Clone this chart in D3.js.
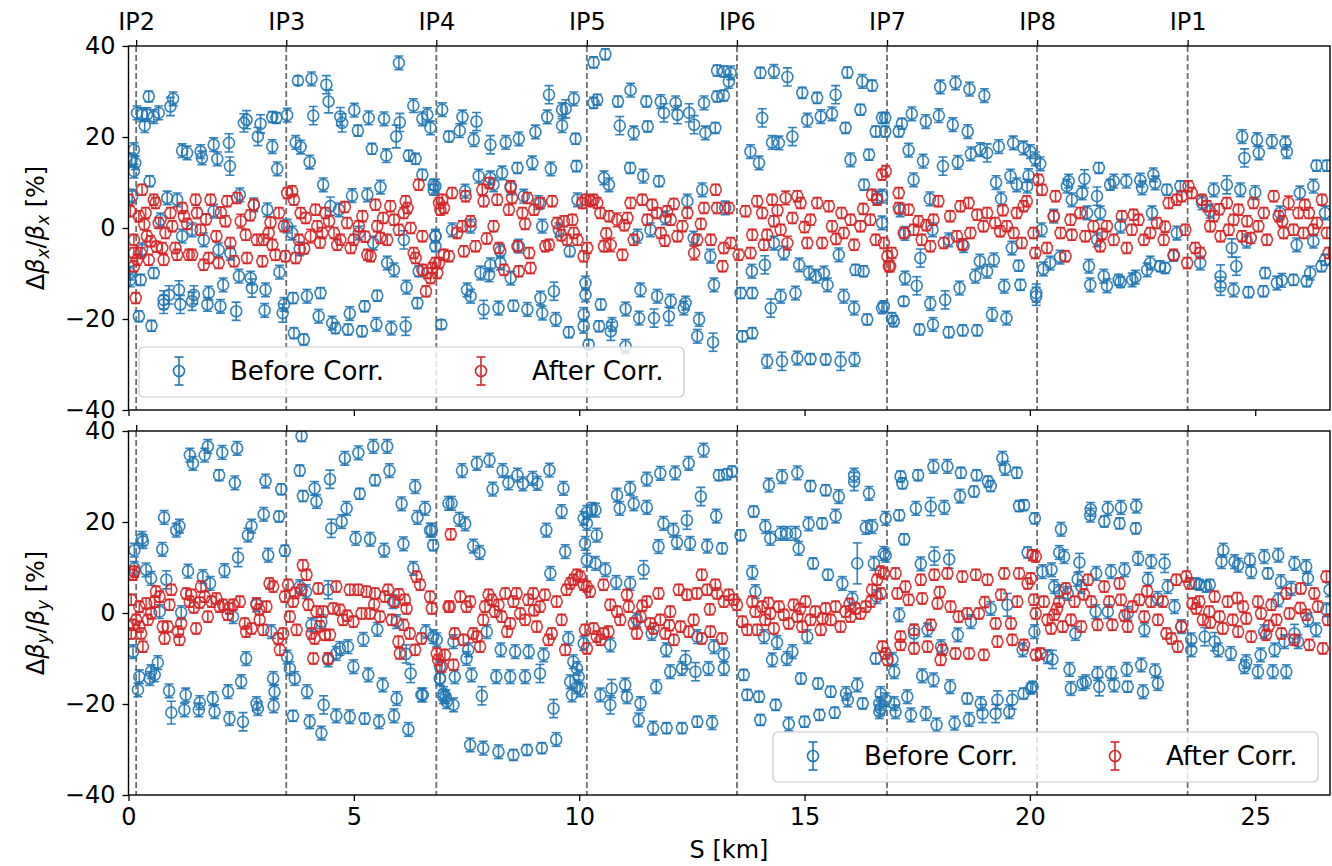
<!DOCTYPE html>
<html>
<head>
<meta charset="utf-8">
<script src="https://cdn.jsdelivr.net/npm/d3@7"></script>
<style>
  body { margin: 0; background: #fff; }
  svg { font-family: "DejaVu Sans", sans-serif; }
</style>
</head>
<body>
<svg id="chart" width="1332" height="866"></svg>
<script>
// ring layout
const circumference = 26.659;
const ipNames = ["IP2", "IP3", "IP4", "IP5", "IP6", "IP7", "IP8", "IP1"];
const ipPos = [0.17, 3.50, 6.83, 10.17, 13.50, 16.83, 20.16, 23.50];
const sTicks = [0, 5, 10, 15, 20, 25];
const yTicks = [-40, -20, 0, 20, 40];
const seriesNames = ["Before Corr.", "After Corr."];

// [S km, beta-beat %, error %]
const betxBefore = [
[0.04,-11.4,1.5],[0.03,-9.9,1.5],[0.07,15,1.5],[0.12,17.2,1.5],[0.12,12.5,1.5],[0.15,14.3,1.5],[0.19,25.3,1.5],[0.3,24.9,1.5],[0.41,24.9,1.5],[0.36,22.5,1.5],[0.45,28.9,1.2],[0.56,24.5,1.5],[0.67,25.3,1.5],[0.93,26.7,2],[0.99,28.4,1.5],[0.08,7,1.5],[0.47,10.3,1.2],[0.3,-4.8,1.5],[0.23,-19.4,1.2],[0.51,-21.5,1.2],[0.27,-11.4,1.2],[0.56,-9.9,1.2],
[0.78,-15.8,2],[0.78,-16.8,2],[0.9,-14.7,2],[1.12,-13.6,2],[1.15,-16.8,2],[1.41,-16.1,2],[1.45,-14.7,2],[1.78,-14.3,1.5],[1.75,-16.8,1.5],[2.04,-17.2,1.5],[2.1,-12.5,1.5],[2.39,-18.3,2],[2.45,-10.6,1.5],[2.71,-11,1.5],[2.74,-13.2,2],[3.04,-13.6,1.5],[3.02,-18.1,1.5],[3.35,-9.7,1.5],[3.42,-18.7,2],[3.45,-16.8,1.5],
[1.19,17,1.5],[1.3,16.5,1.5],[1.6,16.8,1.5],[1.63,15.4,1.5],[1.89,18.3,1.5],[1.97,15.2,1.5],[2.25,13.6,2],[2.23,18.7,2],[2.56,23.1,2],[2.62,23.8,2],[2.87,20.1,2],[2.93,22.9,2],[3.19,17.9,1.5],[3.19,24.4,1.2],[3.28,24.2,1.2],[3.3,13,1.5],[3.52,24.8,1.5],
[0.71,1.8,1.5],[0.86,6.6,1.5],[1.08,6.2,1.5],[1.19,-1.8,1.5],[1.41,-0.4,1.5],[1.67,-2.6,1.5],[1.89,3.7,1.5],[2,-4.8,1.5],[2.26,-5.5,1.5],[2.47,7.3,1.5],[2.78,5.1,1.5],[3.08,4,1.5],[3.52,0.4,1.5],[3.63,-1.1,1.5],[3.8,-4.6,1.5],
[3.76,32.4,1],[4.06,32.8,1.5],[4.39,31.5,2],[4.44,27.8,2.5],[4.1,24.7,2],[4.7,24.5,2],[4.74,23.1,2],[5.01,25.9,1.5],[5.09,21.4,1.2],[5.33,24.2,1.5],[5.67,24,1.5],[6.02,23.2,2],[5.94,20.1,2.5],[6,36.3,1.5],[6.32,26.9,1.5],[6.52,24,1.5],[6.63,24.9,1.5],[6.7,22,1.5],
[3.71,18.8,1.5],[3.82,17.8,1.5],[4.02,14.5,1.5],[5.4,17.4,1.2],[5.72,15.9,1.5],[6.22,15.9,1.2],[6.37,15.2,1.2],[6.52,11.7,1.2],[6.77,9.5,1.2],[6.77,8.4,1.2],
[4.32,9.5,1.5],[4.96,7.1,1.5],[5.3,7.3,1.5],[5.59,9,1.5],
[4.48,4.8,2],[4.67,4,1.5],[5.11,-1.1,1.5],[5.43,-3.3,1.5],[5.74,-7.7,1.5],[5.89,-9.2,1.5],[6.11,-2.6,2],[6.44,-9.5,1.2],[6.81,-1.8,1.2],[6.81,-4,1.2],
[3.65,-15.4,1.2],[3.96,-15,1.5],[4.26,-14.3,1.2],[5.52,-14.9,1.2],[5.24,-17.2,1.2],[4.91,-18.8,1.5],[6.17,-13,1.5],[6.41,-16.5,1.2],[3.67,-23.1,1.2],[3.89,-24.5,1.2],[4.22,-19.4,1.5],[4.52,-20.9,1.5],[4.59,-22,1.2],[4.87,-22.3,1.2],[5.18,-22.7,1.2],[5.5,-21.2,1.5],[5.83,-22,1.5],[6.15,-21.6,2],[6.94,-21.2,1],
[6.96,26,1.5],[7.41,24.4,1.5],[7.72,23.4,2],[7.35,21.4,1.5],[7.11,20.1,1.2],[7.66,19.4,1.5],[8.03,18.3,2],[8.37,18.8,1.5],[8.66,19.6,1.5],[9.03,21.1,1.5],[9.33,29.3,2],[9.29,24.4,1.5],[9.62,26,1.5],[9.7,26.2,2],[9.88,28.4,1.5],[9.62,22.5,1.5],[9.92,19.6,1.2],[10.32,36.4,1.2],[10.58,38.2,1.2],[10.32,27.5,1.2],[10.4,28.2,1.2],[10.86,27.8,1.2],[11.14,30.3,1.5],[10.9,22.5,2],[11.21,20.9,1.5],[11.52,22.3,1.2],[11.49,27.8,1.2],[11.81,27.8,1.5],[11.88,25.3,2],[12.14,27.5,1.5],[12.18,24.9,2],[12.44,25.3,2],[12.55,22.7,2],[12.77,27.5,1.5],[12.8,20.9,1.5],[13.02,22,1.2],[13.06,28.9,1.2],[13.21,29.1,1.2],[13.06,34.6,1.2],[13.21,34.4,1.2],[13.36,34.1,1.5],[13.32,32.2,1.5],
[14.02,34.1,1.2],[14.32,34.4,1.5],[14.62,33.2,2],[14.06,24.2,2],[13.8,16.8,1.5],[13.99,14.3,1.5],[14.28,18.8,1.5],[14.43,18.7,1.5],[14.73,20.1,2],[14.95,29.7,1.2],[15.28,28.6,1.2],[15.69,29.3,2],[15.06,23.7,1.5],[15.36,24.5,1.5],[15.61,25.1,1.5],[15.91,22,1.2],[15.95,34.2,1.2],[16.28,32.2,1.5],[16.5,31.3,1.2],[16.24,26,1.2],[16.02,15,1.5],[16.43,16.1,1.2],[16.58,21.2,1.2],[16.72,24.2,1.2],
[7.77,11.4,1.5],[8.03,11,1.5],[8.29,12.1,1.5],[8.63,13.2,1.2],[8.96,14.3,1.5],[9.37,13,1.5],[9.94,13.6,1.2],[10.55,11,1.5],[10.66,9.5,1.5],[11.13,13.2,1.2],[11.42,11.4,1.5],[11.77,10.3,1.2],[12.73,8.4,1.5],[16.32,9.5,1.2],[16.61,6.6,1.5],
[6.81,9.2,1.5],[7.47,8.1,1.5],[8.1,9.5,1.5],[8.48,8.8,1.5],[8.77,7,1.5],[9.1,5.6,1.5],[9.96,6.2,1.5],[12.4,5.9,1.5],[13.24,4.4,1.5],[7.18,-0.4,1.5],[6.81,-1.8,1.5],[7.59,0.4,1.5],[8.25,-5.1,1.5],[8.66,-4,1.5],[9.18,0.4,1.5],[9.55,-0.4,1.5],[9.79,-5.1,1.2],[11.29,-1.8,1.5],[11.58,-0.4,1.5],[11.91,2.2,1.5],[12.54,-2.2,1.5],[12.91,-6.2,1.5],[14.32,-3.3,1.5],[14.54,-5.5,1.5],[15.76,-5.9,1.5],
[7.81,-9.9,1.5],[8.03,-8.1,1.5],[8,-10.3,1.5],[8.25,-7.7,1.5],[8.48,-11,1.5],[13.83,-9.5,1.5],[14.12,-8.1,2],[14.88,-8.1,1.5],[15.1,-9.9,1.5],[15.25,-10.6,1.5],[15.43,-9.9,1.5],[15.51,-12.5,1.5],[16.13,-9.2,1.2],[16.31,-9.5,1.2],[12.99,-12.5,1.5],
[7.51,-13.6,1.5],[7.59,-15,1.5],[7.88,-17.9,2],[8.21,-17.6,1.5],[8.54,-17.1,1.2],[8.85,-17.9,1.5],[9.14,-15.4,1.5],[9.18,-18.7,1.5],[9.44,-13.9,2],[9.48,-20.1,1.5],[9.77,-22.9,1.2],[10.1,-21.6,1.5],[10.14,-14.7,1.5],[10.1,-19,1.5],[10.14,-12.1,1.5],[10.44,-21.6,1.2],[10.7,-22.7,2],[10.73,-21.2,1.5],[10.48,-16.8,1.2],[10.21,-25.6,1],[11.03,-26,1.5],[11.03,-17.8,1.5],[11.33,-19.8,1.5],[11.36,-13.6,1.5],[11.66,-19.8,2],[11.73,-15,1.5],[11.99,-19.4,2],[12.03,-16.1,1.5],[12.32,-17.6,1.5],[12.36,-16.5,1.5],[12.66,-20.1,1.5],[12.62,-23.8,1.5],[12.97,-25.1,2],[13.58,-14.3,1.2],[13.84,-14.3,1.2],[14.25,-17.6,2],[14.47,-15,1.5],[14.8,-14.3,1.5],[15.87,-15,1.5],[16.1,-17.6,1.5],[16.39,-20.1,1.2],[16.72,-17.6,1.2],[13.62,-23.8,1.2],[13.84,-23.1,1.2],[14.17,-29.3,1.5],[14.5,-29.3,2],[14.84,-28.6,1.5],[15.13,-28.8,1.2],[15.47,-28.9,1.2],[15.8,-29.3,2],[16.11,-28.9,1.5],
[18.01,31,1.5],[18.35,31.9,1.5],[18.66,30.5,1.5],[18.99,29.1,1.5],[16.79,24.2,1.2],[16.79,21.2,1.2],[17.09,21.2,1.2],[17.16,22.9,1.2],[17.38,25.1,1.5],[17.69,23.4,1.5],[17.98,24.7,1.5],[18.29,22.7,1.5],[18.62,21.2,1.5],[17.31,17.1,1.5],[17.63,14.7,1.5],[18.07,13.6,2],[18.4,14.4,1.5],[18.69,16.3,1.5],[18.9,17.2,1.5],[19.05,16.5,2],[19.31,17.9,1.5],[19.63,18.7,1.5],[19.86,17.6,1.5],[20.01,16.8,1.5],[20.12,15.2,1.5],[20.23,14.1,1.5],
[17.42,10.6,1.5],[17.78,6.4,1.5],[19.25,10,1.5],[19.36,6.4,1.5],[19.57,11.4,1.5],[19.71,9.5,1.5],[19.94,9.2,1.5],[19.97,11.5,1.5],
[16.72,7,1.5],[16.72,1.1,1.5],[17.12,4,1.5],[17.23,-1.2,1.5],[17.84,-0.4,1.5],[18.2,-2.6,1.5],[18.53,-3.9,1.5],[17.57,-6.6,2],[17.23,-11,1.5],[17.49,-12.7,2],[17.2,-16.1,1],[17.79,-16.6,1.5],[18.12,-15.8,2],[18.44,-13.2,1.5],[18.79,-10.6,1.5],[19.05,-9.5,1.5],[18.89,-7.3,1.5],[19.2,-7,1.5],[19.43,-12.8,1.5],[19.79,-12.5,1.2],[19.75,-8.3,1.2],[19.6,-4.4,1.5],[16.76,-17.2,1.2],[16.94,-19.8,1.2],[16.98,-20.5,1.2],[17.55,-22.3,1.2],[17.85,-21.2,1.5],[18.2,-22.9,1.2],[18.51,-22.5,1.2],[18.83,-22.5,1.2],[19.16,-19,1.5],[19.48,-19.8,1.5],[20.14,-14.3,2],[20.14,-15,2],
[20.3,-9,1.5],[20.45,-7.7,1.5],[20.67,-6.4,1.5],[20.26,-0.4,1.5],[20.53,2.6,1.5],[20.82,9.2,1.5],[20.93,6.2,1.5],[20.86,10.3,1.5],[21.16,7.7,1.5],[21.21,10.8,2],[21.53,13.2,1.2],[21.49,7,2],[21.27,3.3,1.5],[21.56,3.3,1.5],[21.78,9.5,1.2],[21.86,10.3,1.5],[22.14,10.3,1.5],[22.45,10.5,1.5],[22.49,8.8,1.5],[22.74,11.7,1.5],[22.78,9.9,1.5],[23.04,8.4,1.2],[23.34,9.2,1.2],[21.31,-8.4,1.5],[21.34,-12.5,1.5],[21.64,-10.6,1.5],[21.71,-12.7,1.5],[21.97,-11.4,1.2],[22.01,-11.9,1.2],[22.27,-11.4,1.5],[22.34,-10.8,1.5],[22.6,-9.2,1.5],[22.67,-7.7,1.5],[22.89,-8.4,1.2],[23,-8.8,1.2],[23.19,-6.1,1.2],[22.71,3.3,1.5],[22.01,0.4,1.5],[21.49,-2.6,1.5],[23.26,-1.1,1.5],
[23.78,-7.7,1.5],[23.82,5.5,1.5],[24.08,8.4,1.5],[24.37,9.5,2],[24.67,8.4,1.5],[25,7.8,1.5],[24.71,20.1,1.5],[25.04,19.4,1.5],[25.37,19,1.5],[25.67,18.7,1.5],[24.76,15.4,2],[25.08,16.5,1.5],[25.7,16.8,1.5],[25.99,7.7,1.5],[26.29,9.2,1.5],[26.36,13.7,1.2],[26.59,13.7,1.2],[24.23,-10.6,2.5],[24.23,-12.8,2],[24.58,-8.4,2],[24.52,-13.6,1.5],[24.85,-14.1,1.2],[25.18,-13.9,1.2],[25.22,-9.9,1.2],[25.48,-12.1,1.5],[25.59,-11.5,1.5],[25.85,-11.4,1.2],[26.14,-11.7,1.2],[26.22,-9.9,1.5],[26.47,-8.4,1.2],[26.55,-7,1.2],[24.81,-2.9,1.5],[24.48,-4.4,2],[25.92,-3.7,1.5],[26.29,-2.9,1.5],[24,3.7,1.5],[25.55,3.3,1.5],[26.55,3.3,1.5]
];

const betxAfter = [
[0.01,6.2,1.2],[0.04,3.7,1.2],[0.12,-2.6,1.2],[0.12,-5.5,1.2],[0.12,-8.4,1.2],[0.16,-15.4,1.2],[0.19,-7,1.2],[0.27,-5.5,1.2],[0.3,8.4,1.2],[0.23,2.6,1.2],[0.38,3.3,1.2],[0.41,-1.8,1.2],[0.49,-2.9,1.2],[0.45,-7,1.2],[0.56,6.2,1.2],[0.6,5.5,1.2],[0.67,1.1,1.2],[0.75,-4.4,1.2],[0.78,-7,1.2],[0.82,-1.1,1.2],[0.93,3.3,1.2],[0.97,0.4,1.2],[1.04,-4.4,1.2],[1.08,-5.9,1.2],[1.19,4.4,1.2],[1.23,2.6,1.2],[1.34,-5.9,1.2],[1.41,-5.9,1.2],[1.49,6.2,1.2],[1.52,3.3,1.2],[1.6,-0.4,1.2],[1.67,-8.1,1.2],[1.78,-6.6,1.2],[1.82,6.2,1.2],[1.95,-1.8,1.2],[2,-7.7,1.2],[2.15,1.5,1.2],[2.19,5.9,1.2],[2.26,-3.3,1.2],[2.34,-7.3,1.2],[2.41,6.6,1.2],[2.49,1.5,1.5],[2.6,-1.5,1.2],[2.63,-6.6,1.2],[2.78,5.1,1.2],[2.85,-2.6,1.2],[2.97,-7.3,1.2],[3,-2.6,1.2],[3.11,-1.1,1.2],[3.19,-3.7,1.2],[3.26,-5.9,1.2],[3.34,3.3,1.2],[3.45,0.4,1.2],[3.48,-6.2,1.2],[3.52,7.7,1.2],[3.63,8.1,1.2],[3.71,-6.6,1.2],[3.67,6.2,1.2],[3.78,-2.6,1.2],[3.82,3.3,1.2],[3.93,2.2,1.2],[4.04,-1.8,1.5],[4.15,4,1.2],[4.19,0.4,1.2],[4.3,-1.1,1.2],[4.37,3.3,1.2],[4.45,1.5,1.2],[4.56,-1.1,1.2],[4.63,-3.7,1.2],[4.7,-2.6,1.2],[4.85,1.1,1.2],[4.93,-4.4,1.2],[5,-2.6,1.2],[5.11,0.4,1.2],[5.19,2.6,1.2],[5.3,-5.9,1.2],[5.37,-6.2,1.2],[5.48,5.1,1.2],[5.52,0.4,1.2],[5.59,-2.2,1.2],[5.74,-2.6,1.2],[5.81,4.8,1.2],[5.89,1.8,1.2],[6,-0.4,1.2],[6.11,3.3,1.2],[6.15,5.9,1.2],[6.19,4.4,1.2],[6.26,0,1.2],[6.33,-5.5,1.2],[6.37,-6.6,1.2],[6.44,9.5,1.2],[6.52,-1.8,1.2],[6.52,-9.2,1.2],[6.63,-9.9,1.2],[6.7,-11,1.2],[6.74,-8.8,1.2],[6.6,-13.9,1.2],[6.81,-7.7,1.2],[6.89,5.5,1.2],[6.92,4,1.2],[7,-5.9,1.2],
[0.35,0.8,1.2],[0.62,-4.1,1.2],[1.3,0.9,1.2],[1.72,1.9,1.2],[2.05,3.4,1.2],[2.7,2.8,1.2],[3.15,1.2,1.2],[3.9,-4.5,1.2],[4.25,-3.2,1.2],[4.8,4.6,1.2],[5.25,-1.9,1.2],[5.65,2.2,1.2],
[6.85,-9.9,1.2],[6.89,-7.7,1.2],[6.96,6.2,1.2],[7,4.4,1.2],[7.11,-6.2,1.2],[7.18,7.7,1.2],[7.29,-1.1,1.2],[7.41,0.4,1.2],[7.44,-5.1,1.2],[7.48,7,1.2],[7.59,1.5,1.2],[7.7,-4,1.2],[7.85,8.4,1.2],[7.88,5.9,1.2],[8,9.9,1.2],[8.1,0.4,1.2],[8.18,6.2,1.2],[8.22,-4.4,1.2],[8.33,-9.2,1.2],[8.44,4,1.2],[8.48,9.2,1.2],[8.51,6.6,1.2],[8.63,-4,1.2],[8.66,-9.5,1.2],[8.74,3.3,1.2],[8.85,6.6,1.2],[8.89,-5.5,1.2],[8.92,-8.8,1.2],[9,4,1.2],[9.14,5.5,1.2],[9.25,-4,1.2],[9.33,-3.7,1.2],[9.4,5.9,1.2],[9.51,1.1,1.2],[9.66,1.5,1.2],[9.73,-2.6,1.2],[9.85,1.8,1.2],[9.88,-1.1,1.2],[9.96,-2.6,1.2],[10.07,5.5,1.2],[10.1,-6.2,1.2],[10.14,6.2,1.2],[10.18,-4.4,1.2],[10.25,5.9,1.2],[10.32,6.2,1.2],[10.4,5.5,1.2],[10.47,3.3,1.2],[10.55,-4,1.2],[10.66,2.6,1.2],[10.7,-3.7,1.5],[10.84,1.8,1.5],[10.96,-5.9,1.2],[11.07,2.2,1.2],[11.14,5.5,1.2],[11.21,-2.6,1.2],[11.4,6.2,1.2],[11.51,1.8,1.2],[11.62,5.1,1.2],[11.73,3.3,1.2],[11.81,-1.1,1.2],[11.95,3.7,1.2],[12.03,1.8,1.2],[12.18,-1.8,1.2],[12.29,0.4,1.2],[12.4,3.3,1.2],[12.55,-5.5,1.5],[12.62,-2.6,1.2],[12.77,4.4,1.2],[12.92,-2.6,1.2],[13.03,8.4,1.2],[13.06,4.4,1.2],[13.18,-8.4,1.2],[13.21,-4.4,1.2],[13.32,4.4,1.2],[13.36,-3.3,1.2],[13.54,-5.9,1.2],[13.69,3.7,1.2],[13.8,-5.5,1.2],[13.84,-1.5,1.2],[13.95,5.9,1.2],[14.06,3.3,1.2],[14.17,-1.5,1.2],[14.28,6.2,1.2],[14.32,1.5,1.2],[14.47,-0.4,1.2],[14.58,6.6,1.5],[14.62,-3.3,1.5],[14.73,2.2,1.2],[14.84,7,1.2],[14.91,5.5,1.2],[15.06,-3.3,1.2],[15.13,1.8,1.2],[15.28,5.5,1.2],[15.39,-3.3,1.2],[15.54,4.8,1.2],[15.61,0.4,1.2],[15.82,3.3,1.2],[15.87,-1.1,1.2],[16.02,1.8,1.2],[16.1,-3.7,1.2],[16.24,0.4,1.2],[16.46,1.8,1.2],[16.58,-2.6,1.2],[16.5,7.3,1.2],[16.61,6.2,1.2],[16.72,11.7,1.2],[16.8,12.5,1.2],[16.84,-6.2,1.2],[16.87,-8.4,1.2],
[7.95,-2.3,1.2],[8.8,0.9,1.2],[9.6,-1.6,1.2],[10.6,-1.2,1.2],[11.0,0.6,1.2],[11.9,-2.8,1.2],[12.1,5.3,1.2],[12.7,0.9,1.2],[14.1,-3.7,1.2],[14.4,3.9,1.2],[15.0,0.2,1.2],[15.7,-2.4,1.2],[16.3,4.2,1.2],
[16.76,-3.3,1.2],[16.94,-5.5,1.2],[16.9,-8.4,1.2],[17.09,7.7,1.2],[17.09,4.4,1.2],[17.2,-1.1,1.2],[17.31,4,1.2],[17.42,-0.4,1.2],[17.53,1.5,1.2],[17.6,-2.6,1.2],[17.79,-4,1.2],[17.86,1.8,1.2],[17.97,5.9,1.2],[18.09,-3.3,1.2],[18.23,2.6,1.2],[18.38,-1.8,1.2],[18.46,4.8,1.2],[18.64,5.5,1.2],[18.68,-1.1,1.2],[18.83,2.9,1.2],[18.97,0.4,1.2],[19.05,3.3,1.2],[19.23,1.1,1.2],[19.34,-0.7,1.2],[19.49,0.4,1.2],[19.64,-1.1,1.2],[19.71,3.3,1.2],[19.82,-3.3,1.2],[19.86,4.8,1.2],[19.93,5.9,1.2],[20.08,-1.1,1.2],[20.12,-5.5,1.2],[20.19,10.6,1.2],[20.27,8.4,1.2],[20.38,-4.4,1.2],[20.53,2.6,1.2],[20.57,7,1.2],[20.68,-1.1,1.2],[20.79,-6.2,1.2],[20.93,-1.5,1.2],[21.12,3.3,1.2],[21.23,-1.8,1.2],[21.41,0.4,1.2],[21.56,-4,1.2],[21.71,0.4,1.2],[21.86,-2.6,1.2],[22.04,2.6,1.2],[22.15,-4.4,1.2],[22.26,-0.4,1.2],[22.41,1.8,1.2],[22.53,-2.6,1.2],[22.67,-1.1,1.2],[22.82,1.1,1.2],[22.97,-2.6,1.2],[23.08,5.5,1.2],[23.19,-5.9,1.2],[23.26,6.2,1.2],[23.37,7,1.2],[23.45,-0.4,1.2],[23.49,-7.7,1.2],[23.52,9.2,1.2],[23.59,7.7,1.2],[23.67,-4.4,1.2],[23.78,-5.5,1.2],[23.82,6.2,1.2],[23.93,4.8,1.2],[24,0.4,1.2],[24.08,2.6,1.2],[24.23,-1.8,1.2],[24.37,5.5,1.2],[24.41,-0.4,1.2],[24.52,1.8,1.2],[24.63,4,1.2],[24.71,-1.8,1.2],[24.82,1.5,1.2],[24.96,5.5,1.2],[25.07,0.4,1.2],[25.19,3.3,1.2],[25.26,-2.6,1.2],[25.41,7,1.2],[25.52,2.6,1.2],[25.63,-1.1,1.2],[25.74,5.5,1.5],[25.85,-0.4,1.2],[25.96,3.3,1.2],[26.07,-1.1,1.2],[26.19,3.3,1.2],[26.29,-0.4,1.2],[26.37,1.1,1.2],[26.48,6.2,1.2],[26.59,-1.1,1.2],[26.63,-5.5,1.2],
[17.7,0.6,1.2],[18.5,-3.6,1.2],[19.4,3.9,1.2],[20.9,1.8,1.2],[21.6,-1.3,1.2],[22.3,2.9,1.2],[23.0,0.3,1.2],[24.2,4.1,1.2],[24.9,-2.2,1.2],[25.6,1.5,1.2],[26.1,5.1,1.2]
];

const betyBefore = [
[0.1,-8.5,1.5],[0.13,13.8,1.5],[0.13,9.8,1.5],[0.3,16.4,1.5],[0.32,15.7,1.5],[0.39,9.5,1.5],[0.5,7.6,1.5],[0.75,14,1.5],[0.79,21,1.5],[0.84,7.3,2],[1.06,18.2,1.5],[1.13,19.1,1.5],[1.32,9.2,1.5],[1.36,34.7,1.5],[1.43,32.9,1.5],[1.65,8,1.5],[1.69,34.7,1.5],[1.76,36.6,1.5],[1.81,6.5,1.5],[1.17,0.1,1.5],[0.69,0.3,1.5],
[2.01,30.3,1.2],[2.08,35.3,1.5],[2.36,28.6,1.5],[2.41,36.2,1.5],[2.13,9.3,1.5],[2.43,12.2,2],[2.65,17.1,1.5],[2.73,19.1,1.5],[3,21.7,1.5],[3.04,29,1.5],[3.1,12.7,1.5],[3.34,21.2,1.2],[3.39,27.2,1.2],[3.47,13.7,1.2],[3.84,38.9,1.2],[3.8,31.3,1.2],[3.87,25.7,1.2],[4.13,27.4,1.5],[4.17,24.5,1.5],[4.47,29.4,2],[4.5,18.6,2],[4.73,20.1,1.5],[4.84,23,1.5],[4.8,34,1.5],[5.1,35.2,1.5],[5.13,26.2,1.2],[5.04,16.4,1.5],[5.36,16.2,1.5],[5.43,36.6,1.5],[5.47,29.2,1.2],[5.67,13.8,1.5],[5.74,36.6,1.5],[5.79,31.3,1.5],[6.06,24,1.5],[6.1,15.2,1.5],[6.36,27.8,1.5],[6.41,21,1.5],[6.58,23,1.5],[6.69,18.2,1.5],[6.76,14.9,1.2],[6.32,9.8,1.5],[7.1,24.1,1.5],
[3.8,5.8,1.5],[3.94,4.7,1.5],[4.43,5.1,2],[5.87,2.5,1.5],[5.95,-1.9,1.5],[2.32,-0.8,1.5],[2.84,1.8,1.5],[3.17,-4.1,1.5],[3.52,-9.7,1.5],[3.58,-12.2,1.5],[3.69,-14.4,1.5],[4.06,-2.6,1.5],[4.28,-1.9,1.5],[4.43,-10.3,1.5],[4.61,-8.9,1.5],[4.69,-7.8,1.5],[4.87,-7.4,1.5],[5.21,-5.8,1.5],[5.52,-3.6,1.5],[4.99,-11.8,1.5],[5.32,-13.6,1.5],[5.64,-15.8,1.5],[5.95,-18.8,1.5],[6.16,-9,2],[6.26,-13.3,2],[6.53,-18,1.5],[6.6,-4.1,1.5],[6.84,-5.9,1.5],[6.91,-14.4,1.5],[6.99,-18.4,1.5],[7.06,-19.5,1.5],
[0.21,-16.9,1.5],[0.24,-14,1.5],[0.47,-14.4,1.5],[0.5,-12.9,1.5],[0.58,-13.6,1.5],[0.65,-10.9,1.5],[0.9,-17.1,1.5],[0.95,-21.9,2.5],[1.24,-21.3,1.5],[1.27,-18,1.5],[1.56,-21.3,1.5],[1.58,-19.7,1.5],[1.87,-18.8,1.5],[1.91,-21.7,1.5],[2.21,-17.3,1.5],[2.24,-23.2,1.5],[2.5,-15.1,1.5],[2.54,-23.9,2],[2.61,-10,1.5],[2.84,-19.9,1.5],[2.87,-21,1.5],[3.21,-14.4,1.5],[3.24,-17.3,1.5],[3.22,-20.4,1.5],[3.65,-22.6,1.2],[3.96,-17.3,1.5],[4.02,-23.9,1.5],[4.28,-26.4,1.5],[4.33,-20.2,2],[4.61,-22.6,1.5],[4.91,-22.8,1.5],[5.24,-23.2,1.2],[5.56,-23.9,1.5],[5.89,-22.6,1.5],[6.21,-25.6,1.5],[6.5,-18,1.5],
[6.73,18.2,1.5],[7.17,24.1,1.5],[7.4,31.3,1.5],[7.73,32.9,1.5],[8.01,33.6,1.5],[8.08,27.2,1.5],[8.3,31.3,1.5],[8.43,28.6,1.5],[8.63,30.3,1.5],[8.75,28.4,1.5],[8.97,29.6,1.5],[9.07,28.5,1.5],[9.34,31.4,1.5],[9.65,27.4,1.5],[9.61,22.3,1.5],[9.27,18.2,1.5],[9.69,13.5,1.5],[9.36,8.7,1.5],[7.34,20.6,1.5],[7.47,19.6,1.5],[7.65,14.7,1.5],[7.79,13.3,1.5],[10.1,20.8,1.5],[10.17,19.7,1.5],[10.17,22.1,1.5],[10.28,22.8,1.5],[10.36,22.6,1.5],[10.39,17.1,1.5],[10.13,15.3,1.5],[10.17,11.6,1.5],[10.36,10.9,1.5],[10.58,9.5,1.5],[10.84,25.9,1.5],[10.9,23,1.5],[11.13,27.4,1.5],[11.21,24,1.5],[11.5,23.2,1.5],[11.5,29.4,1.5],[11.8,30.7,1.5],[12.13,30.8,1.5],[12.43,32.9,1.5],[12.76,35.8,1.5],[12.7,25.6,2],[12.39,20.4,2],[11.87,19.7,1.5],[12.09,18.2,1.5],[12.17,15.5,1.5],[12.46,15.3,1.5],[11.76,14.6,1.5],[12.84,14.7,1.5],[13.17,14.2,1.2],[13.04,21.3,1.5],[13.1,30.3,1.2],[13.28,30.5,1.2],[13.39,31.1,1.2],[11.43,9.5,2],[10.82,6.7,1.5],[11.13,6.5,1.5],[13.58,17.1,1.2],
[13.84,8.9,1.5],[13.91,4.7,1.5],[13.87,22.3,1.2],[14.13,19,1.5],[14.21,28.1,1.5],[14.24,16.4,1.5],[14.47,17.5,1.5],[14.5,30,1.5],[14.61,17.5,1.5],[14.8,17.5,1.5],[14.84,30.8,1.5],[14.87,14.2,1.5],[15.09,19.6,1.5],[15.13,27.9,1.2],[15.19,10.9,1.2],[15.39,19.7,1.2],[15.47,27,1.2],[15.52,8.4,1.2],[15.69,21.3,1.5],[15.76,25.6,1.5],[15.84,6.5,1.5],[16.06,3.2,1.5],[16.1,28.9,2],[16.1,30.3,1.5],[16.17,10.9,4.5],[16.43,26.3,1.5],[16.36,18.8,1.5],[16.5,19,1.5],[16.54,10.9,1.5],[16.76,13.1,1.5],[16.8,20.8,1.5],[16.61,3.6,1.5],
[6.76,-5.2,1.5],[6.91,-11.8,1.5],[6.91,-14.4,1.5],[6.99,-17.7,1.5],[7.04,-18.4,1.5],[7.21,-20.2,1.5],[7.24,-14,1.5],[7.21,-6.3,1.5],[7.5,-10,1.5],[7.54,-8.1,1.5],[7.61,-13.6,1.5],[7.84,-18.2,2],[7.95,-4.1,1.5],[8.26,-8.1,1.5],[8.16,-14,1.5],[8.47,-14,1.5],[8.58,-8.5,1.5],[8.8,-14,1.5],[8.88,-8.5,1.5],[9.13,-13.3,2],[9.21,-9.2,1.5],[9.43,-21,2],[9.76,-5.6,1.5],[9.87,-10.7,1.5],[9.95,-12.2,1.5],[9.99,-14,1.5],[9.8,-15.1,1.5],[9.84,-18,1.5],[9.95,-16.2,1.5],[10.02,-16.9,1.5],[10.1,-6.7,1.5],[10.69,-7,1.5],[10.47,-18,1.5],[10.72,-16.6,2],[10.69,-20.2,2],[11.02,-15.8,1.5],[11.06,-18.4,1.5],[11.36,-19.9,1.5],[11.32,-23.5,1.5],[11.71,-16.2,1.5],[11.64,-25.3,1.5],[11.93,-8.1,1.5],[11.94,-25.3,1.2],[12.02,-12.9,1.5],[12.28,-25.3,1.2],[12.36,-10.3,2],[12.28,-12.2,1.5],[12.58,-12.9,2],[12.62,-23.9,1.2],[12.87,-12.2,1.5],[12.95,-24.1,1.5],[12.99,-7.4,1.5],[13.21,-9.2,1.5],[13.21,-12.2,1.5],[11.61,-4.5,1.5],[12.62,-5.2,1.5],[11.28,-1.5,1.5],
[7.58,-29,1.5],[7.87,-29.7,1.5],[8.21,-30.5,1.5],[8.54,-31.2,1.2],[8.84,-30.1,1.2],[9.17,-29.7,1.2],[9.49,-27.8,1.5],
[13.65,-13.6,1.2],[13.73,-18,1.2],[13.99,-18.4,1.2],[14.02,-23.5,1.2],[14.1,-5.2,1.5],[14.28,-10.3,1.5],[14.39,-6.5,1.5],[14.36,-20.2,1.2],[14.61,-10,1.5],[14.65,-24.4,1.5],[14.73,-8.5,1.5],[14.92,-14.4,1.2],[15,-23.9,1.2],[15.06,-5.2,1.5],[15.3,-15.5,1.2],[15.33,-22.4,1.2],[15.58,-17.3,1.2],[15.67,-21.9,1.2],[15.92,-17.7,1.5],[15.96,-19.1,1.5],[16.17,-15.8,1.5],[16.29,-19.9,1.2],[16.58,-10,1.2],[16.66,-19.9,1.5],[16.66,-21.7,1.5],[16.8,-19.1,1.5],
[16.8,12.7,1.5],[17.13,30,1.2],[17.17,28.5,1.2],[17.21,16.2,1.2],[17.1,21.5,1.2],[17.52,30.3,1.2],[17.47,23,1.5],[17.8,23.4,2],[17.86,32.2,1.5],[18.1,23.2,1.5],[18.17,32.2,1.5],[18.47,30.8,1.2],[18.45,25.7,1.5],[18.76,26.7,1.2],[18.82,30.3,1.2],[19.07,28.9,1.2],[19.13,27.9,1.2],[19.39,34,1.5],[19.45,31.8,1.5],[19.71,30.8,1.2],[19.76,23.5,1.2],[19.87,23.7,1.2],[20.11,20.8,1.2],[17.58,10.8,1.5],[17.88,12.5,2],[18.21,11.8,2],[17.1,-0.4,1.5],[19.95,13.3,1.2],[20.28,9.1,1.5],[20.48,9.5,1.5],[20.69,18.4,1.5],[20.65,13.3,1.5],[20.76,12.4,1.5],[21.1,11.1,2],[21.06,7.4,1.5],[21.35,22.8,1.5],[21.34,21.5,1.5],[21.65,20.1,1.2],[21.73,23,1.5],[21.99,19.7,1.2],[22.02,23.2,1.5],[22.35,18.6,1.2],[22.36,23.5,1.5],[22.4,12,1.5],[22.69,11.3,1.5],[22.99,10.9,2],[21.47,8.7,1.5],[21.8,9.1,1.5],[22.1,9.5,1.5],[22.62,7.4,1.5],
[16.69,-21,1.5],[16.69,-17.7,1.5],[16.99,-19.9,1.5],[17.02,-21.7,1.5],[16.95,-10.2,1.5],[16.99,-12.9,1.5],[17.28,-18.4,1.5],[17.36,-22.4,1.5],[17.69,-22.1,1.5],[17.61,-13.8,1.5],[17.86,-14.7,1.5],[17.93,-24.6,1.5],[18.23,-16.2,1.5],[18.33,-24.2,1.5],[18.61,-18.8,1.2],[18.65,-23.4,1.5],[18.91,-19.9,1.5],[18.95,-22.1,2],[19.24,-22.1,2],[19.28,-19.1,2],[19.54,-21.7,1.5],[19.61,-19.1,2],[19.86,-17.7,1.2],[20.02,-16.6,1.2],[20.06,-16.2,1.2],[18.4,-4.8,1.5],[18.69,-1.9,1.5],[18.03,-7.4,1.5],[17.43,-4.5,2],[17.73,-3.7,1.5],[19.13,1,1.5],[19.5,1.8,2.5],[19.84,-8.1,1.5],[20.1,-4.1,1.5],
[20.39,-9.6,1.5],[20.5,-10.2,2],[20.88,-12.4,1.5],[20.91,-16.6,1.5],[21.17,-15.5,1.5],[21.24,-15.1,1.5],[21.5,-13.3,1.5],[21.54,-16.2,2],[21.8,-13.3,1.5],[21.87,-15.8,1.5],[22.15,-12.4,1.5],[22.17,-16.2,1.2],[22.47,-11.4,1.5],[22.51,-17.3,1.5],[22.78,-12.7,1.5],[22.84,-15.5,1.5],[21.01,-4.5,1.5],[21.46,0.3,1.5],[21.73,0.3,1.5],[22.17,-0.1,1.5],[22.54,-3.7,1.5],[20.54,5.8,1.5],[20.65,4.7,1.5],[20.84,4.3,1.5],[21.14,5.8,1.5],[22.84,3.2,1.5],[23.06,5.8,1.5],[23.21,1.4,1.5],[23.36,-3,1.5],[23.58,-5.9,1.5],[23.58,-8.1,1.5],
[23.69,6.5,1.2],[23.76,6.2,1.2],[23.91,5.8,1.2],[23.99,6.2,1.2],[23.88,-5.2,2],[24.1,-6.3,2],[24.18,-8.1,1.5],[24.29,13.8,1.5],[24.25,11.3,1.5],[24.54,11.3,1.5],[24.62,10.5,1.5],[24.88,11.6,1.5],[24.91,9.1,1.5],[25.2,12.4,1.5],[25.28,8.7,1.2],[25.51,12.7,1.5],[25.57,6.9,1.5],[25.87,10.9,1.5],[26.13,10.2,1.5],[26.17,7.6,1.5],[24.46,-8.9,1.5],[24.76,-11.8,1.5],[24.8,-10.7,1.5],[25.06,-12.9,1.5],[25.12,-9.2,1.5],[25.39,-12.9,1.5],[25.43,-8.1,1.5],[25.69,-12.9,1.5],[25.65,-6.3,1.5],[25.87,-4.5,2],[25.95,-6.3,1.5],[26.17,-1.5,1.5],[26.35,-3.7,1.5],[26.58,0.7,1.5],[26.65,5.1,1.5],[25.51,2.9,1.5],[25.8,5.4,1.5],[25.2,-4.1,1.5]
];

const betyAfter = [
[0.1,8.4,1.2],[0.13,9.1,1.2],[0.06,2.9,1.2],[0.06,-4.5,1.2],[0.1,-2.6,1.2],[0.17,-1.5,1.2],[0.24,-3,1.2],[0.28,-4.5,1.2],[0.32,-7.4,1.2],[0.24,1.4,1.2],[0.39,2.1,1.2],[0.43,-1.5,1.2],[0.5,-0.1,1.2],[0.58,2.5,1.2],[0.61,4.7,1.2],[0.69,3.6,1.2],[0.76,-3,1.2],[0.8,-5.6,1.2],[0.87,-3,1.2],[0.91,1.8,1.2],[0.95,5.1,1.2],[1.1,-4.1,1.2],[1.13,-5.9,1.2],[1.17,-2.3,1.2],[1.28,4.3,1.2],[1.36,2.5,1.2],[1.39,4,1.2],[1.5,-3.4,1.2],[1.58,2.3,1.2],[1.61,5.8,1.2],[1.69,3.6,1.2],[1.76,-0.8,1.2],[1.84,2.5,1.2],[1.95,3.2,1.2],[2.02,1.4,1.2],[2.1,1.8,1.2],[2.24,1,1.2],[2.32,1.8,1.2],[2.47,2.5,1.2],[2.58,-2.3,1.2],[2.61,-4.1,1.2],[2.73,-3.4,1.2],[2.84,2.1,1.2],[2.91,-1.5,1.2],[2.99,-3.7,1.2],[3.06,1.4,1.2],[3.13,6.5,1.2],[3.21,5.8,1.2],[3.32,-5.6,1.2],[3.36,-8.1,1.2],[3.43,-4.5,1.2],[3.47,3.6,1.2],[3.54,6.2,1.2],[3.58,-0.8,1.2],[3.65,2.5,1.2],[3.73,-3.7,1.2],[3.84,5.1,1.2],[3.87,10.5,1.2],[3.95,8.4,1.2],[3.99,1.8,1.2],[4.06,-4.5,1.2],[4.13,-5.6,1.2],[4.21,5.4,1.2],[4.17,0.3,1.2],[4.32,0.3,1.2],[4.36,-4.8,1.2],[4.47,-4.8,1.2],[4.43,-10,1.2],[4.1,-10,1.2],[4.54,1,1.2],[4.61,5.8,1.2],[4.69,0.7,1.2],[4.76,-1.5,1.2],[4.91,5.1,1.2],[4.99,-1.9,1.2],[5.1,5.1,1.2],[5.17,-0.1,1.2],[5.28,4.7,1.2],[5.36,-0.1,1.2],[5.47,4.3,1.2],[5.58,-0.8,1.2],[5.69,3.6,1.2],[5.76,5.1,1.2],[5.84,-1.5,1.2],[5.91,2.5,1.2],[5.99,-6.3,1.2],[6.1,-2.6,1.2],[6.13,2.9,1.2],[6.17,1,1.2],[6.02,-8.9,1.2],[6.24,-4.5,1.2],[6.36,-8.1,1.2],[6.39,8,1.2],[6.47,6.2,1.2],[6.5,-5.6,1.2],[6.69,3.6,1.2],[6.73,1,1.2],[6.84,-8.9,1.2],[6.87,-10.3,1.2],[6.95,-11.8,1.2],[7.1,1.4,1.2],[7.15,17.3,1.2],
[1.45,1.2,1.2],[2.2,-0.4,1.2],[2.9,0.8,1.2],[3.7,4.4,1.2],[4.25,-2.9,1.2],[4.85,-0.6,1.2],[5.45,1.9,1.2],[6.0,4.1,1.2],
[7.02,-9.2,1.2],[7.13,1.4,1.2],[7.24,-4.5,1.2],[7.21,-11.4,1.2],[7.36,3.6,1.2],[7.43,-5.9,1.2],[7.5,1.4,1.2],[7.58,2.5,1.2],[7.65,-4.5,1.2],[7.73,-5.2,1.2],[7.8,-7.4,1.2],[7.87,-1.5,1.2],[7.91,1.4,1.2],[7.99,4,1.2],[8.06,2.9,1.2],[8.13,0.3,1.2],[8.21,1.8,1.2],[8.28,-0.8,1.2],[8.36,4.3,1.2],[8.47,-2.3,1.2],[8.54,2.5,1.2],[8.61,4.3,1.2],[8.69,-0.1,1.2],[8.8,-1.5,1.2],[8.87,2.9,1.2],[8.98,4.3,1.2],[9.06,-3,1.2],[9.13,1.4,1.2],[9.24,4,1.2],[9.32,-5.9,1.2],[9.39,-4.5,1.2],[9.5,2.5,1.2],[9.61,-1.5,1.2],[9.69,-8.1,1.2],[9.72,5.1,1.2],[9.8,6.5,1.2],[9.87,7.3,1.2],[9.95,8.4,1.2],[10.02,8,1.2],[10.1,6.2,1.2],[10.17,5.8,1.2],[10.24,4.7,1.2],[10.13,-3.7,1.2],[10.17,-7.8,1.2],[10.32,-3.4,1.2],[10.39,-5.2,1.2],[10.47,-5.9,1.2],[10.54,-4.5,1.2],[10.54,6.2,1.2],[10.65,-4.1,1.2],[10.69,1.8,1.2],[10.84,0.3,1.2],[10.91,-1.5,1.2],[11.06,4,1.2],[11.1,1.4,1.2],[11.21,-2.3,1.2],[11.28,-4.5,1.2],[11.36,-0.8,1.2],[11.5,2.5,1.2],[11.58,-2.3,1.2],[11.65,-3.4,1.2],[11.76,4.3,1.2],[11.8,-1.5,1.2],[11.91,-4.5,1.2],[12.02,0.3,1.2],[12.1,-5.9,1.2],[12.21,5.1,1.2],[12.25,-3,1.2],[12.39,4,1.2],[12.43,-4.1,1.2],[12.54,-1.5,1.2],[12.61,4.3,1.2],[12.72,8.4,1.2],[12.72,-5.6,1.2],[12.84,5.1,1.2],[12.91,-4.1,1.2],[13.02,6.2,1.2],[13.06,4.3,1.2],[13.17,-5.6,1.2],[13.21,2.5,1.2],[13.32,4,1.2],[13.43,2.9,1.2],[13.5,1.8,1.2],[13.62,-1.9,1.2],[13.73,-3.7,1.2],[13.84,2.5,1.2],[13.91,0.3,1.2],[13.95,-3.7,1.2],[14.06,1.4,1.2],[14.13,-1.5,1.2],[14.24,-0.1,1.2],[14.32,-3.4,1.2],[14.43,1.4,1.2],[14.54,-0.4,1.2],[14.65,-2.3,1.2],[14.76,1.8,1.2],[14.84,-0.8,1.2],[14.95,-3,1.2],[15.02,2.5,1.2],[15.13,-1.5,1.2],[15.24,0.3,1.2],[15.36,-3.7,1.2],[15.47,1,1.2],[15.58,-1.5,1.2],[15.69,1.4,1.2],[15.8,-3,1.2],[15.91,0.3,1.2],[16.02,-0.8,1.2],[16.13,1,1.2],[16.24,-0.1,1.2],[16.36,1.4,1.2],[16.47,2.5,1.2],[16.5,5.1,1.2],[16.61,7.3,1.2],[16.69,9.1,1.2],[16.76,8.7,1.2],[16.73,-7.4,1.2],[16.8,-8.9,1.2],[16.84,-10.3,1.2],
[8.4,-4.1,1.2],[9.0,0.6,1.2],[11.4,1.6,1.2],[12.0,-2.7,1.2],[12.9,0.8,1.2],[14.2,2.2,1.2],[14.9,0.9,1.2],[15.4,-1.2,1.2],[16.0,2.0,1.2],
[16.69,4.3,1.2],[17.02,8.7,1.2],[17.06,4.3,1.2],[17.13,-5.2,1.2],[17.13,-7,1.2],[17.24,5.8,1.2],[17.31,2.9,1.2],[17.43,-3.7,1.2],[17.43,-7.8,1.2],[17.58,7.3,1.2],[17.61,3.2,1.2],[17.73,-7.4,1.2],[17.8,-2.6,1.2],[17.88,8.4,1.2],[17.95,2.1,1.2],[18.02,-10.3,1.2],[18.06,-8.1,1.2],[18.17,8.7,1.2],[18.24,1.4,1.2],[18.35,-8.9,1.2],[18.42,-0.8,1.2],[18.5,8,1.2],[18.61,-0.1,1.2],[18.65,-8.9,1.2],[18.8,8.4,1.2],[18.87,-0.1,1.2],[18.98,-9.2,1.2],[19.06,7.3,1.2],[19.24,-2.3,1.2],[19.28,-6.3,1.2],[19.36,4,1.2],[19.43,8.7,1.2],[19.58,-2.3,1.2],[19.61,-5.9,1.2],[19.72,2.5,1.2],[19.76,8.7,1.2],[19.87,-7,1.2],[19.95,6.5,1.2],[20.02,7.6,1.2],[20.06,12.7,1.2],[20.13,12.4,1.2],[20.09,2.9,1.2],[20.13,-0.1,1.2],[20.13,-9.2,1.2],[20.24,-8.9,1.2],[20.31,2.5,1.2],[20.39,-1.5,1.2],[20.47,-3.4,1.2],[20.54,-0.4,1.2],[20.65,2.5,1.2],[20.73,-3,1.2],[20.8,5.4,1.2],[20.91,-1.5,1.2],[20.99,2.5,1.2],[21.14,-3,1.2],[21.29,7.3,1.2],[21.36,2.5,1.2],[21.5,-2.6,1.2],[21.65,5.8,1.2],[21.76,2.5,1.2],[21.83,-2.6,1.2],[21.99,6.5,1.2],[22.02,2.9,1.2],[22.17,-3,1.2],[22.28,1.4,1.2],[22.43,2.9,1.2],[22.54,-0.8,1.2],[22.69,2.5,1.2],[22.84,-1.5,1.2],[22.95,2.5,1.2],[23.03,-4.5,1.2],[23.14,-5.6,1.2],[23.25,7.3,1.2],[23.28,-7.4,1.2],[23.36,-3,1.2],[23.47,8,1.2],[23.54,6.5,1.2],[23.61,2.1,1.2],[23.69,1,1.2],[23.76,2.5,1.2],[23.84,-1.5,1.2],[23.98,0.3,1.2],[24.1,3.6,1.2],[24.21,-0.8,1.2],[24.28,-3.4,1.2],[24.39,2.5,1.2],[24.5,-1.5,1.2],[24.62,-4.1,1.2],[24.73,1.4,1.2],[24.8,-1.2,1.2],[24.91,-5.2,1.2],[25.06,2.5,1.2],[25.13,-0.1,1.2],[25.24,-4.8,1.2],[25.36,1.8,1.2],[25.47,-1.5,1.2],[25.58,-4.5,1.2],[25.69,4.3,1.2],[25.76,-0.1,1.2],[25.87,-5.9,1.2],[26.01,5.4,1.2],[26.13,-0.4,1.2],[26.2,-7,1.2],[26.31,4.3,1.2],[26.39,1.4,1.2],[26.5,-7.8,1.2],[26.58,8,1.2],[26.61,-1.5,1.2],
[18.0,4.6,1.2],[19.0,2.4,1.2],[20.6,0.9,1.2],[21.2,4.1,1.2],[22.1,-0.6,1.2],[22.6,4.8,1.2],[24.0,-2.1,1.2],[24.6,3.3,1.2],[25.3,-2.8,1.2],[26.0,1.1,1.2]
];

const colors = { before: "#1f77b4", after: "#d62728" };

const svg = d3.select("#chart");
const x = d3.scaleLinear().domain([0, circumference]).range([128.5, 1330]);

const panels = [
  { top: 46, bottom: 410, sub: "x", before: betxBefore, after: betxAfter, legend: [139, 347] },
  { top: 431, bottom: 795, sub: "y", before: betyBefore, after: betyAfter, legend: [773, 732] }
];

function drawMarkers(g, pts, y, color) {
  let pt = g.append("g").selectAll("g").data(pts).join("g")
    .attr("stroke", color).attr("stroke-opacity", 0.9).attr("fill", "none").attr("stroke-width", 1.6);
  pt.append("line")
    .attr("x1", d => x(d[0])).attr("x2", d => x(d[0]))
    .attr("y1", d => y(d[1] - d[2])).attr("y2", d => y(d[1] + d[2]));
  pt.append("line")
    .attr("x1", d => x(d[0]) - 4.5).attr("x2", d => x(d[0]) + 4.5)
    .attr("y1", d => y(d[1] - d[2])).attr("y2", d => y(d[1] - d[2]));
  pt.append("line")
    .attr("x1", d => x(d[0]) - 4.5).attr("x2", d => x(d[0]) + 4.5)
    .attr("y1", d => y(d[1] + d[2])).attr("y2", d => y(d[1] + d[2]));
  pt.append("circle")
    .attr("cx", d => x(d[0])).attr("cy", d => y(d[1])).attr("r", 5.5);
}

function legendMarker(g, cx, cy, color) {
  let m = g.append("g").attr("stroke", color).attr("fill", "none").attr("stroke-width", 1.6);
  m.append("line").attr("x1", cx).attr("x2", cx).attr("y1", cy - 14).attr("y2", cy + 14);
  m.append("line").attr("x1", cx - 4.5).attr("x2", cx + 4.5).attr("y1", cy - 14).attr("y2", cy - 14);
  m.append("line").attr("x1", cx - 4.5).attr("x2", cx + 4.5).attr("y1", cy + 14).attr("y2", cy + 14);
  m.append("circle").attr("cx", cx).attr("cy", cy).attr("r", 5.5);
}

function styleAxis(g) {
  g.select(".domain").remove();
  g.selectAll("line").attr("stroke", "#000").attr("stroke-width", 1.3);
  g.selectAll("text").attr("font-size", 24).attr("fill", "#000").attr("font-family", "DejaVu Sans");
}

panels.forEach((p, i) => {
  let y = d3.scaleLinear().domain([-40, 40]).range([p.bottom, p.top]);
  let g = svg.append("g");
  let clipId = "clip" + i;

  svg.append("clipPath").attr("id", clipId).append("rect")
    .attr("x", x.range()[0]).attr("y", p.top)
    .attr("width", x.range()[1] - x.range()[0]).attr("height", p.bottom - p.top);

  // IP markers
  g.append("g").selectAll("line").data(ipPos).join("line")
    .attr("x1", d => x(d)).attr("x2", d => x(d))
    .attr("y1", p.top).attr("y2", p.bottom)
    .attr("stroke", "#6e6e6e").attr("stroke-width", 1.8).attr("stroke-dasharray", "6,3");

  let marks = g.append("g").attr("clip-path", `url(#${clipId})`);
  drawMarkers(marks, p.before, y, colors.before);
  drawMarkers(marks, p.after, y, colors.after);

  // axes
  let yAxis = g.append("g").attr("transform", `translate(${x.range()[0]},0)`)
    .call(d3.axisLeft(y).tickValues(yTicks).tickSize(6).tickPadding(7));
  styleAxis(yAxis);

  let xAxis = g.append("g").attr("transform", `translate(0,${p.bottom})`)
    .call(d3.axisBottom(x).tickValues(sTicks).tickSize(6).tickPadding(7).tickFormat(i == 1 ? d3.format("d") : ""));
  styleAxis(xAxis);

  let ipAxis = g.append("g").attr("transform", `translate(0,${p.top})`)
    .call(d3.axisTop(x).tickValues(ipPos).tickSize(6).tickPadding(10).tickFormat((d, k) => i == 0 ? ipNames[k] : ""));
  styleAxis(ipAxis);

  g.append("rect")
    .attr("x", x.range()[0]).attr("y", p.top)
    .attr("width", x.range()[1] - x.range()[0]).attr("height", p.bottom - p.top)
    .attr("fill", "none").attr("stroke", "#000").attr("stroke-width", 1.4);

  // y label  Δβ_x/β_x [%]
  let lbl = g.append("text")
    .attr("transform", `translate(44,${(p.top + p.bottom) / 2}) rotate(-90)`)
    .attr("text-anchor", "middle").attr("font-size", 24).attr("fill", "#000");
  lbl.append("tspan").text("Δ");
  lbl.append("tspan").attr("font-style", "italic").text("β");
  lbl.append("tspan").attr("font-style", "italic").attr("font-size", 17).attr("dy", 5).text(p.sub);
  lbl.append("tspan").attr("dy", -5).text("/");
  lbl.append("tspan").attr("font-style", "italic").text("β");
  lbl.append("tspan").attr("font-style", "italic").attr("font-size", 17).attr("dy", 5).text(p.sub);
  lbl.append("tspan").attr("dy", -5).text(" [%]");

  // legend
  let [lx, ly] = p.legend;
  let leg = g.append("g");
  leg.append("rect").attr("x", lx).attr("y", ly).attr("width", 545).attr("height", 50).attr("rx", 5)
    .attr("fill", "#fff").attr("fill-opacity", 0.8).attr("stroke", "#cccccc").attr("stroke-width", 1.2);
  legendMarker(leg, lx + 40, ly + 24, colors.before);
  legendMarker(leg, lx + 342, ly + 24, colors.after);
  leg.append("text").attr("x", lx + 91).attr("y", ly + 33).attr("font-size", 26).text(seriesNames[0]);
  leg.append("text").attr("x", lx + 393).attr("y", ly + 33).attr("font-size", 26).text(seriesNames[1]);
});

svg.append("text").attr("x", 729).attr("y", 858).attr("text-anchor", "middle")
  .attr("font-size", 24).attr("fill", "#000").text("S [km]");
</script>
</body>
</html>
